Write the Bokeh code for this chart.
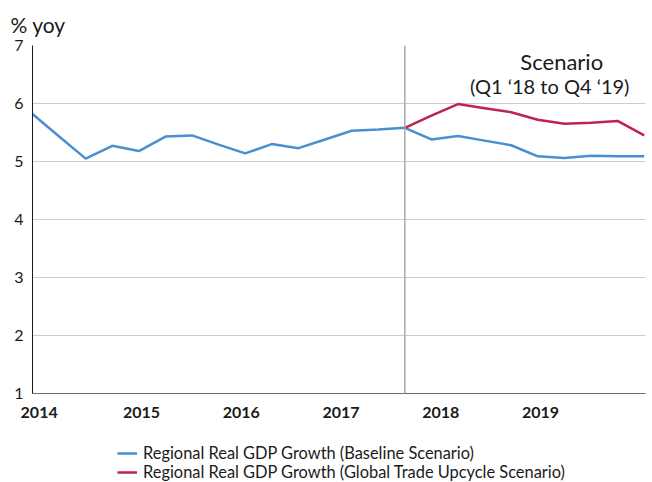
from bokeh.plotting import figure
from bokeh.layouts import column
from bokeh.models import Range1d, FixedTicker, Legend, LegendItem, Label, Span
from bokeh.embed import file_html
from bokeh.resources import INLINE

# Quarterly index 0 = Q1 2014 ... 23 = Q4 2019
quarters = list(range(24))
baseline = [5.82, 5.43, 5.05, 5.27, 5.18, 5.43, 5.45, 5.29, 5.14, 5.30, 5.23, 5.38,
            5.53, 5.55, 5.58, 5.38, 5.44, 5.36, 5.28, 5.09, 5.06, 5.10, 5.09, 5.09]
upcycle_q = list(range(14, 24))
upcycle = [5.58, 5.79, 5.99, 5.92, 5.85, 5.72, 5.65, 5.67, 5.70, 5.45]

year_labels = ["2014", "2015", "2016", "2017", "2018", "2019"]
year_ticks = [0.25, 4.1, 7.85, 11.6, 15.35, 19.1]
y_ticks = [1, 2, 3, 4, 5, 6, 7]
scenario_start = 14
series_names = ["Regional Real GDP Growth (Baseline Scenario)",
                "Regional Real GDP Growth (Global Trade Upcycle Scenario)"]

BLUE = "#4a8fd2"
RED = "#c0234f"
FONT = "Lato"

p = figure(width=650, height=430, output_backend="svg", toolbar_location=None,
           x_range=Range1d(0, 23.05), y_range=Range1d(1, 7),
           min_border_left=32, min_border_right=5, min_border_top=44, min_border_bottom=37,
           title="% yoy")
p.outline_line_color = None
p.background_fill_color = "white"

p.title.text_font = FONT
p.title.text_font_size = "21px"
p.title.text_font_style = "normal"
p.title.text_color = "#1a1a1a"
p.title.align = "left"
p.title.vertical_align = "bottom"
p.title.offset = -22
p.title.standoff = 18

# axes
p.xaxis.ticker = FixedTicker(ticks=year_ticks)
p.xaxis.major_label_overrides = {t: l for t, l in zip(year_ticks, year_labels)}
p.xaxis.major_tick_line_color = None
p.xaxis.minor_tick_line_color = None
p.xaxis.axis_line_color = "#6e6e6e"
p.xaxis.major_label_text_font = FONT
p.xaxis.major_label_text_font_style = "bold"
p.xaxis.major_label_text_font_size = "16px"
p.xaxis.major_label_text_color = "#1a1a1a"
p.xaxis.major_label_standoff = 7

p.yaxis.ticker = FixedTicker(ticks=y_ticks)
p.yaxis.major_tick_line_color = None
p.yaxis.minor_tick_line_color = None
p.yaxis.axis_line_color = "#1a1a1a"
p.yaxis.major_label_text_font = FONT
p.yaxis.major_label_text_font_size = "16px"
p.yaxis.major_label_text_color = "#1a1a1a"
p.yaxis.major_label_standoff = 3

p.xgrid.grid_line_color = None
p.ygrid.grid_line_color = "#cccccc"
p.ygrid.grid_line_width = 1

p.add_layout(Span(location=scenario_start, dimension="height",
                  line_color="#a8a8a8", line_width=1.5))

p.line(quarters, baseline, line_color=BLUE, line_width=2.5)
p.line(upcycle_q, upcycle, line_color=RED, line_width=2.5)

p.add_layout(Label(x=19.9, y=6.73, text="Scenario", text_font=FONT, text_font_size="22px",
                   text_color="#1a1a1a", text_baseline="middle", text_align="center"))
p.add_layout(Label(x=19.45, y=6.31, text="(Q1 \u201818 to Q4 \u201819)", text_font=FONT,
                   text_font_size="20px", text_color="#1a1a1a", text_baseline="middle",
                   text_align="center"))

# Legend in a separate strip below the chart (its frame is aligned with the chart's frame)
lg = figure(width=650, height=52, output_backend="svg", toolbar_location=None,
            x_range=Range1d(0, 1), y_range=Range1d(0, 1),
            x_axis_location=None, y_axis_location=None,
            min_border_left=0, min_border_right=0, min_border_top=0, min_border_bottom=0)
lg.grid.visible = False
lg.outline_line_color = None
lb = lg.line([0, 1], [-5, -5], line_color=BLUE, line_width=2.5)
lr = lg.line([0, 1], [-5, -5], line_color=RED, line_width=2.5)
legend = Legend(items=[LegendItem(label=series_names[0], renderers=[lb]),
                       LegendItem(label=series_names[1], renderers=[lr])],
                location=(85, 1), orientation="vertical")
legend.label_text_font = FONT
legend.label_text_font_size = "16.4px"
legend.label_text_color = "#1a1a1a"
legend.glyph_width = 20
legend.glyph_height = 18
legend.label_height = 18
legend.label_standoff = 6
legend.spacing = 0
legend.padding = 0
legend.margin = 0
legend.border_line_color = None
legend.background_fill_alpha = 0
lg.add_layout(legend)

layout = column(p, lg, spacing=0)
open("out.html", "w").write(file_html(layout, INLINE))
